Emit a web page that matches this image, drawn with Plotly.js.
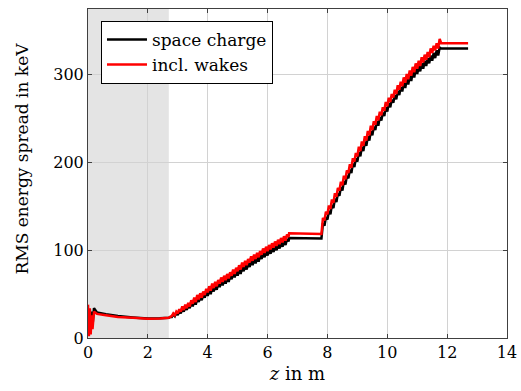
<!DOCTYPE html>
<html>
<head>
<meta charset="utf-8">
<script src="https://cdn.plot.ly/plotly-3.0.1.min.js"></script>
<style>html,body{margin:0;padding:0;background:#fff;}#chart{width:521px;height:391px;}</style>
</head>
<body>
<div id="chart"></div>
<script>
// ---- data (z in m, RMS energy spread in keV) ----
const seriesNames = ["space charge", "incl. wakes"];
const shadedRegion = [0, 2.7];

// injector region
const zEntry = [0, 0.03, 0.06, 0.09, 0.12, 0.15, 0.2, 0.3, 0.6, 1.0, 1.5, 2.0, 2.4];
const scEntry = [30, 12, 33, 8, 30, 14, 34, 29, 27, 25, 23.5, 22.3, 22.5];
const wkEntry = [38, 2, 34, 4, 26, 10, 30, 27.5, 26, 24, 23, 22, 22.3];

// first linac section
const zSec1 = [2.70,2.75,2.80,2.85,2.90,2.95,3.00,3.05,3.10,3.15,3.20,3.25,3.30,3.35,3.40,3.45,3.50,3.55,3.60,3.65,3.70,3.75,3.80,3.85,3.90,3.95,
  4.00,4.05,4.10,4.15,4.20,4.25,4.30,4.35,4.40,4.45,4.50,4.55,4.60,4.65,4.70,4.75,4.80,4.85,4.90,4.95,
  5.00,5.05,5.10,5.15,5.20,5.25,5.30,5.35,5.40,5.45,5.50,5.55,5.60,5.65,5.70,5.75,5.80,5.85,5.90,5.95,
  6.00,6.05,6.10,6.15,6.20,6.25,6.30,6.35,6.40,6.45,6.50,6.55,6.60,6.65,6.70];
const scSec1 = [23,24,24,27,25,29,26,31,28,34,30,36,32,38,34,41,36,43,38,46,41,48,43,50,46,53,
  48,55,50,58,53,60,55,62,58,65,60,67,62,69,64,71,67,74,69,76,
  71,78,73,81,76,83,78,85,81,88,83,90,85,92,87,94,90,97,92,99,
  94,101,96,103,98,105,100,107,102,109,104,111,106,113,110];
const wkSec1 = [23,24,25,28,26,30,28,33,30,36,32,38,34,40,36,43,39,46,41,49,44,51,46,53,49,56,
  52,59,54,62,57,64,59,66,62,69,64,71,66,73,68,75,71,78,73,80,
  76,83,78,86,81,88,83,90,86,93,88,95,90,97,92,99,95,102,97,104,
  99,106,101,108,103,110,105,112,107,114,109,116,111,118,115];

// drift between sections
const zDrift1 = [6.72, 7.80];
const scDrift1 = [114, 113.5];
const wkDrift1 = [119.5, 118.5];

// second linac section
const zSec2 = [7.85,7.90,7.95,8.00,8.05,8.10,8.15,8.20,8.25,8.30,8.35,8.40,8.45,8.50,8.55,8.60,8.65,8.70,8.75,8.80,8.85,8.90,8.95,
  9.00,9.05,9.10,9.15,9.20,9.25,9.30,9.35,9.40,9.45,9.50,9.55,9.60,9.65,9.70,9.75,9.80,9.85,9.90,9.95,
  10.00,10.05,10.10,10.15,10.20,10.25,10.30,10.35,10.40,10.45,10.50,10.55,10.60,10.65,10.70,10.75,10.80,10.85,10.90,10.95,
  11.00,11.05,11.10,11.15,11.20,11.25,11.30,11.35,11.40,11.45,11.50,11.55,11.60,11.65,11.70,11.75];
const scSec2 = [131,128,138,135,145,141,152,148,159,155,165,162,172,168,179,175,185,182,192,188,199,195,205,
  201,212,207,218,213,224,219,230,225,236,231,241,237,247,242,252,248,257,253,263,
  258,268,263,272,268,277,272,282,277,286,281,291,285,295,289,299,293,303,297,307,
  301,310,304,313,307,316,310,319,313,322,316,325,319,328,322,331];
const wkSec2 = [137,134,144,141,151,147,158,154,165,161,171,168,178,174,185,181,191,188,198,194,205,201,211,
  207,218,213,224,219,230,225,236,231,242,237,247,243,253,248,258,254,263,259,269,
  264,274,269,278,274,283,278,288,283,292,287,297,291,301,295,305,299,309,303,313,
  307,316,310,320,314,323,317,326,320,330,325,333,328,336,330,341];

// exit drift
const zDrift2 = [11.80, 12.70];
const scDrift2 = [330, 330];
const wkDrift2 = [336, 336];

const xTicks = [0, 2, 4, 6, 8, 10, 12, 14];
const yTicks = [0, 100, 200, 300];
const yTitle = 'RMS energy spread in keV';

// ---- assemble ----
const zSC = [].concat(zEntry, zSec1, zDrift1, zSec2, zDrift2);
const eSC = [].concat(scEntry, scSec1, scDrift1, scSec2, scDrift2);
const zWK = [].concat(zEntry, zSec1, zDrift1, zSec2, zDrift2);
const eWK = [].concat(wkEntry, wkSec1, wkDrift1, wkSec2, wkDrift2);

const font = "DejaVu Serif, Times New Roman, serif";

const traces = [
  {x: zSC, y: eSC, name: seriesNames[0], type: 'scatter', mode: 'lines',
   line: {color: '#000000', width: 2.5}},
  {x: zWK, y: eWK, name: seriesNames[1], type: 'scatter', mode: 'lines',
   line: {color: '#ff0000', width: 2.5}}
];

const axisCommon = {
  showgrid: true, gridcolor: '#d2d2d2', gridwidth: 1,
  showline: true, linecolor: '#404040', linewidth: 1, mirror: 'ticks',
  ticks: 'inside', ticklen: 4, tickcolor: '#404040',
  zeroline: false, tickfont: {family: font, size: 16, color: '#000'}
};

const layout = {
  width: 521, height: 391,
  margin: {l: 88, r: 14, t: 9, b: 53},
  paper_bgcolor: '#ffffff', plot_bgcolor: '#ffffff',
  font: {family: font, size: 16, color: '#000'},
  showlegend: true,
  legend: {x: 0.031, y: 0.964, xanchor: 'left', yanchor: 'top',
    bgcolor: '#ffffff', bordercolor: '#000000', borderwidth: 1,
    itemwidth: 40,
    font: {family: font, size: 17, color: '#000'}, tracegroupgap: 0},
  xaxis: Object.assign({}, axisCommon, {
    range: [0, 14], tickvals: xTicks, ticktext: xTicks.map(String),
    title: {text: '<i>z</i> in m', font: {family: font, size: 18}, standoff: 6}
  }),
  yaxis: Object.assign({}, axisCommon, {
    range: [0, 375], tickvals: yTicks, ticktext: yTicks.map(String)
  }),
  annotations: [{text: yTitle, xref: 'paper', yref: 'paper', x: -0.158, y: 0.545,
    xanchor: 'center', yanchor: 'middle', textangle: -90, showarrow: false,
    font: {family: font, size: 17, color: '#000'}}],
  shapes: [{type: 'rect', xref: 'x', yref: 'paper', x0: shadedRegion[0], x1: shadedRegion[1],
    y0: 0, y1: 1, fillcolor: '#e4e4e4', line: {width: 0}, layer: 'below'}]
};

Plotly.newPlot('chart', traces, layout, {displayModeBar: false, staticPlot: true});
</script>
</body>
</html>
